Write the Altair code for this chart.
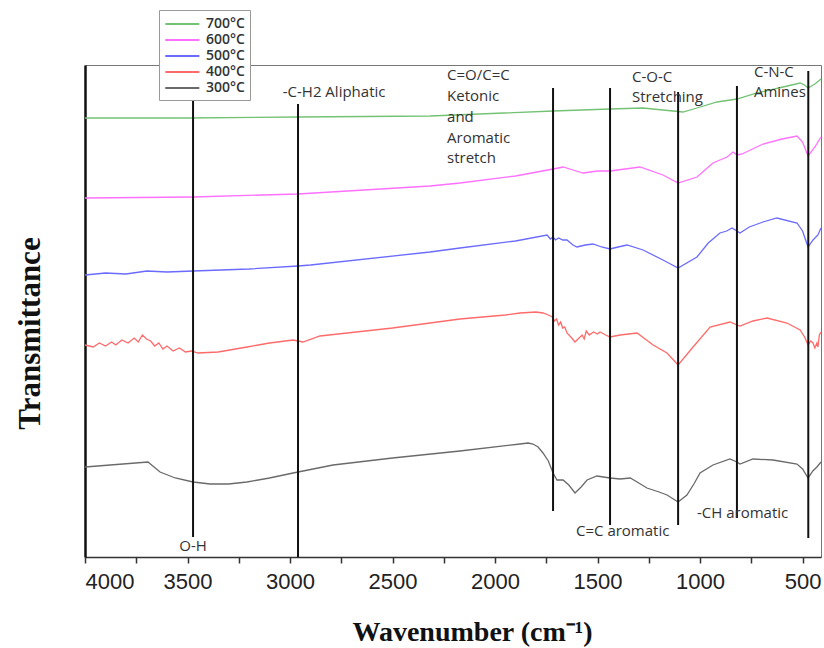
import altair as alt
import pandas as pd

# ---------------- data (arbitrary transmittance units) ----------------
series_names = ["700°C", "600°C", "500°C", "400°C", "300°C"]
series_colors = ["#74c274", "#ff70ff", "#6b6bff", "#ff6b6b", "#6a6a6a"]

wn_300 = [4000, 3693, 3634, 3560, 3473, 3390, 3300, 3210, 3100, 2985, 2790, 2500, 2171, 1878, 1839, 1815,
          1790, 1766, 1740, 1717, 1698, 1668, 1640, 1610, 1580, 1551, 1503, 1439, 1390, 1340, 1307, 1259,
          1200, 1161, 1107, 1064, 1030, 1000, 937, 854, 820, 805, 742, 644, 527, 500, 473, 450, 430, 410]
t_300 = [90, 95, 85, 79, 75, 73, 73, 75, 79, 84, 92, 99, 106, 113, 114, 113,
         110, 104, 96, 84, 77, 77, 72, 64, 70, 77, 81, 79, 78, 79, 75, 69,
         65, 62, 55, 62, 73, 84, 92, 98, 95, 93, 98, 97, 93, 88, 79, 86, 90, 95]

wn_400 = [4000, 3960, 3930, 3900, 3870, 3850, 3820, 3790, 3760, 3740, 3720, 3700, 3680, 3660, 3640, 3620,
          3600, 3570, 3540, 3510, 3480, 3450, 3350, 3210, 3100, 2985, 2961, 2937, 2854, 2500, 2171, 1950,
          1878, 1800, 1766, 1740, 1720, 1710, 1700, 1690, 1680, 1670, 1660, 1649, 1630, 1610, 1590, 1575,
          1565, 1555, 1540, 1520, 1500, 1488, 1460, 1439, 1390, 1307, 1229, 1161, 1107, 1034, 951, 854,
          820, 805, 742, 673, 576, 512, 490, 473, 460, 449, 440, 430, 425, 418, 410]
t_400 = [212, 210, 214, 211, 215, 212, 217, 214, 219, 215, 222, 218, 216, 211, 214, 208,
         211, 206, 209, 205, 206, 204, 205, 210, 214, 217, 216, 215, 221, 229, 238, 242,
         244, 245, 244, 242, 240, 236, 238, 232, 235, 229, 230, 224, 220, 215, 219, 222,
         218, 226, 222, 225, 223, 225, 222, 220, 222, 224, 212, 204, 192, 210, 230, 235,
         232, 231, 236, 239, 234, 227, 220, 212, 216, 214, 209, 214, 210, 222, 225]

wn_500 = [4000, 3900, 3800, 3698, 3600, 3473, 3200, 2961, 2900, 2317, 2171, 1900, 1746, 1730, 1717, 1705,
          1690, 1670, 1649, 1620, 1600, 1560, 1522, 1480, 1439, 1400, 1356, 1278, 1181, 1107, 1015, 960,
          903, 870, 844, 820, 805, 760, 693, 625, 527, 500, 473, 449, 425, 410]
t_500 = [282, 284, 283, 286, 285, 286, 288, 291, 292, 305, 309, 316, 322, 318, 320, 317,
         319, 317, 317, 312, 310, 312, 313, 310, 308, 310, 312, 307, 297, 289, 300, 314,
         324, 326, 329, 326, 324, 330, 335, 339, 334, 326, 310, 317, 322, 329]

wn_600 = [4000, 3473, 2961, 2317, 2171, 1900, 1717, 1668, 1620, 1571, 1500, 1439, 1293, 1181, 1107, 1015,
          937, 868, 839, 820, 795, 693, 600, 527, 500, 473, 440, 410]
t_600 = [359, 360, 363, 371, 374, 381, 388, 390, 387, 384, 386, 386, 390, 382, 374, 380,
         394, 400, 405, 402, 403, 413, 418, 421, 415, 401, 410, 420]

wn_700 = [4000, 3500, 2961, 2317, 1717, 1439, 1278, 1181, 1083, 1015, 917, 820, 722, 595, 512, 490,
          473, 440, 410]
t_700 = [439, 439, 440, 441, 446, 448, 449, 447, 445, 449, 455, 458, 464, 470, 474, 472,
         469, 473, 478]

# annotation lines: wavenumber, top, bottom (same units as the spectra)
ann_wn = [3473, 2961, 1717, 1439, 1107, 820, 472]
ann_top = [474, 453, 469, 469, 465, 471, 486]
ann_bottom = [20, 0, 46, 32, 32, 39, 19]

# annotation texts
lab_text = ["O-H", "-C-H2 Aliphatic", "C=O/C=C", "Ketonic", "and", "Aromatic", "stretch",
            "C-O-C", "Stretching", "C-N-C", "Amines", "C=C aromatic", "-CH aromatic"]
lab_wn = [3473, 2785, 2234, 2234, 2234, 2234, 2234, 1332, 1332, 737, 737, 1605, 1015]
lab_t = [11, 465, 482, 461, 440, 419, 399, 480, 460, 485, 465, 26, 44]
lab_align = ["center", "center", "left", "left", "left", "left", "left",
             "left", "left", "left", "left", "left", "left"]

x_ticks = [4000, 3750, 3500, 3250, 3000, 2750, 2500, 2250, 2000, 1750, 1500, 1250, 1000, 750, 500]

# ---------------- build tables ----------------
rows = []
for name, wns, ts in zip(series_names, [wn_700, wn_600, wn_500, wn_400, wn_300],
                         [t_700, t_600, t_500, t_400, t_300]):
    for w, t in zip(wns, ts):
        rows.append({"series": name, "wn": w, "T": t})
spec = pd.DataFrame(rows)

ann = pd.DataFrame({"wn": ann_wn, "top": ann_top, "bottom": ann_bottom})
labs = pd.DataFrame({"text": lab_text, "wn": lab_wn, "T": lab_t, "align": lab_align})

x_scale = alt.Scale(domain=[4000, 410], nice=False, zero=False)
y_scale = alt.Scale(domain=[0, 492], nice=False, zero=False)

x_axis = alt.Axis(
    values=x_ticks, format="d",
    labelExpr="datum.value % 500 == 0 ? datum.label : ''",
    grid=False, tickSize=6, tickColor="#333", tickWidth=1.5,
    domainColor="#333", domainWidth=1.5,
    labelFont="Liberation Sans", labelFontSize=22, labelColor="#222", labelPadding=8,
    title="Wavenumber (cm⁻¹)", titleFont="Liberation Serif", titleFontSize=28,
    titleFontWeight="bold", titleColor="#111",
    titleX=387, titleY=75, titleAlign="center", titleBaseline="middle",
)
y_axis = alt.Axis(
    labels=False, ticks=False, grid=False,
    domainColor="#111", domainWidth=2.5,
    title="Transmittance", titleFont="Liberation Serif", titleFontSize=31,
    titleFontWeight="bold", titleColor="#111", titleAngle=-90,
    titleX=-55, titleY=268, titleAlign="center", titleBaseline="middle",
)

lines = alt.Chart(spec).mark_line(strokeWidth=1.3).encode(
    x=alt.X("wn:Q", scale=x_scale, axis=x_axis),
    y=alt.Y("T:Q", scale=y_scale, axis=y_axis),
    color=alt.Color(
        "series:N",
        scale=alt.Scale(domain=series_names, range=series_colors),
        sort=series_names,
        legend=alt.Legend(
            title=None, orient="none", legendX=74, legendY=-55,
            symbolType="M-1,0L3.4,0", symbolSize=240, symbolStrokeWidth=2,
            labelFont="Open Sans", labelFontSize=14, labelFontWeight=600, labelColor="#333",
            fillColor="white", strokeColor="#999", padding=5, rowPadding=0, labelOffset=24,
        ),
    ),
    order=alt.Order("wn:Q", sort="descending"),
)

vlines = alt.Chart(ann).mark_rule(color="#111", strokeWidth=2).encode(
    x=alt.X("wn:Q", scale=x_scale),
    y=alt.Y("top:Q", scale=y_scale),
    y2="bottom:Q",
)

texts_center = alt.Chart(labs[labs["align"] == "center"]).mark_text(
    font="Open Sans", fontSize=15, color="#333", align="center", baseline="middle"
).encode(x=alt.X("wn:Q", scale=x_scale), y=alt.Y("T:Q", scale=y_scale), text="text:N")

texts_left = alt.Chart(labs[labs["align"] == "left"]).mark_text(
    font="Open Sans", fontSize=15, color="#333", align="left", baseline="middle"
).encode(x=alt.X("wn:Q", scale=x_scale), y=alt.Y("T:Q", scale=y_scale), text="text:N")

chart = alt.layer(lines, vlines, texts_center, texts_left).properties(
    width=736, height=492,
    autosize=alt.AutoSizeParams(type="none"),
    padding={"left": 85, "top": 65, "right": 3, "bottom": 91},
    background="white",
).configure_view(stroke="#777", strokeWidth=1)

chart.save("out.html", embed_options={"renderer": "svg", "actions": False})
